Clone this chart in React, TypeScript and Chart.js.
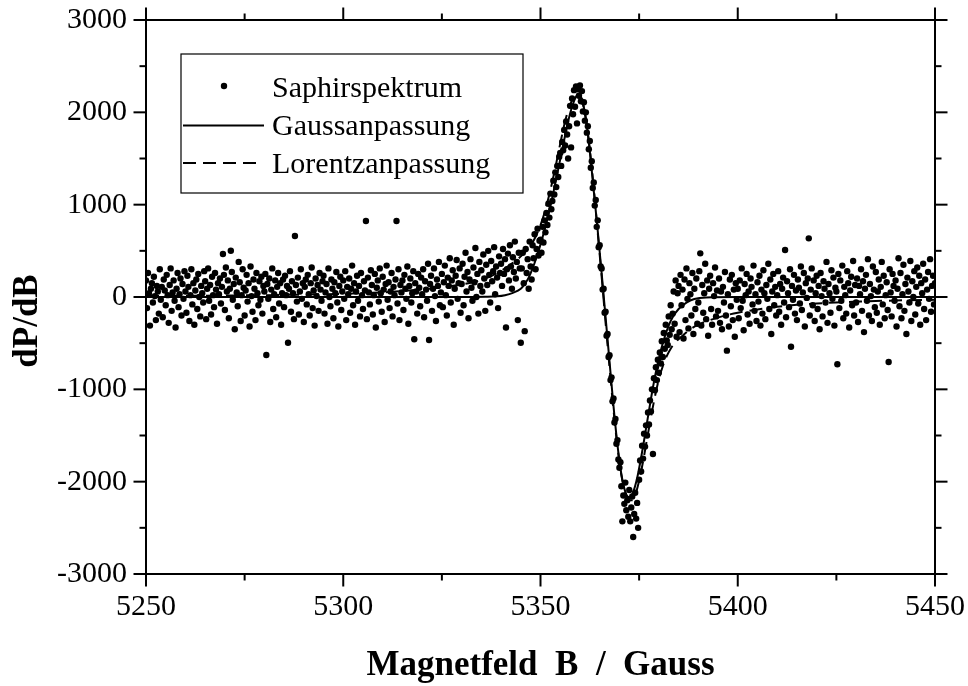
import React, { useEffect, useRef } from 'react';
import { Chart, registerables } from 'chart.js';

Chart.register(...registerables);

// ---------- data ----------
const B_START = 5250;
const B_STEP = 0.25;

// measured spectrum dP/dB, one value per 0.25 G from 5250 G to 5450 G (20 values per row = 5 G)
const SPECTRUM = [
  180, -120, 260, 40, -310, 90, 150, -60, 220, 10, -250, 120, 60, -180, 300, -30, 110, -220, 190, 70,
  -90, 240, 20, -280, 130, 310, -150, 50, 180, -40, -330, 90, 260, -110, 30, 200, -200, 140, -20, 280,
  60, -170, 230, 110, -260, 20, 300, -80, 150, -300, 70, 190, -130, 250, 0, -210, 120, 40, -60, 280,
  170, -240, 90, 310, -40, 130, -190, 220, 20, -110, 260, 80, -290, 150, 30, 200, -70, 110, 466, 240,
  -140, 320, 60, 180, -230, 90, 501, 270, -30, 140, -350, 210, 50, -100, 380, 160, -260, 20, 300, 100,
  -200, 70, 240, -50, 150, -320, 330, 10, -160, 190, 90, -250, 260, 40, -90, 170, -30, 220, -180, 120,
  60, 250, -628, 140, -20, 200, -270, 80, 310, -130, 30, 180, -220, 110, 260, -70, 150, -300, 40, 190,
  -110, 230, 20, 120, -495, 90, 280, -160, 170, 40, -240, 661, 130, -50, 210, -190, 60, 300, -20, 150,
  -270, 110, 190, -80, 240, 30, -200, 150, 320, -120, 70, -310, 200, 10, 130, -150, 260, 80, -40, 170,
  230, -180, 50, 140, -290, 310, 0, -100, 190, 90, -230, 160, 40, 270, -60, -320, 120, 220, -140, 60,
  180, -20, 280, -250, 110, 30, 200, -170, 90, 340, -90, 150, -300, 60, 230, -40, 120, -210, 260, 20,
  -130, 170, 70, 823, -240, 210, 50, -80, 290, 130, -190, 20, 250, -330, 100, 180, -50, 310, 40, -160,
  220, 80, -270, 140, 340, -30, 160, -120, 60, 260, -210, 110, 20, 190, 823, -70, 300, -250, 130, 50,
  180, -140, 240, 90, -20, 330, -290, 120, 200, -60, 40, 280, -458, 150, 60, -180, 250, 100, -100, 210,
  30, 300, -220, 170, 80, -40, 360, -466, 140, 230, -150, 90, 310, 10, -260, 190, 120, 380, -90, 50,
  250, -110, 160, 340, 20, -200, 210, 120, 420, -60, 180, 290, -300, 90, 230, 400, -20, 150, 310, -170,
  140, 360, -90, 220, 480, 60, 270, -230, 190, 410, 100, -40, 320, 160, 530, 0, 250, -180, 380, 120,
  290, 60, 460, 200, -150, 350, 130, 500, 240, -60, 390, 170, 280, 540, 30, 330, 210, -120, 440, 260,
  360, 120, 520, 250, 410, -330, 300, 470, 180, 560, 330, 90, 430, 270, 600, 200, 380, -250, 480, 310,
  -495, 310, 480, 150, -370, 520, 260, 410, 90, 600, 330, 190, 560, 420, 680, 300, 520, 740, 450, 610,
  620, 480, 760, 590, 830, 700, 910, 780, 1010, 860, 1120, 950, 1040, 1260, 1110, 1350, 1190, 1420, 1300, 1520,
  1560, 1420, 1680, 1590, 1810, 1640, 1900, 1760, 1500, 1850, 2070, 1620, 2150, 1980, 2240, 2060, 2280, 1880, 2250, 2180,
  2290, 2120, 2230, 2010, 2110, 1910, 2000, 1780, 1850, 1600, 1690, 1400, 1470, 1180, 1240, 990, 1050, 760, 830, 540,
  560, 330, 310, 80, 90, -170, -160, -420, -400, -650, -630, -900, -870, -1130, -1100, -1360, -1320, -1590, -1550, -1760,
  -1850, -1790, -2050, -2430, -2150, -2240, -2010, -2310, -2200, -2380, -2090, -2430, -2280, -2160, -2600, -2350, -2120, -2400, -2230, -2500,
  -1980, -1770, -1890, -1610, -1750, -1480, -1620, -1390, -1500, -1250, -1380, -1120, -1240, -1000, -1700, -880, -1010, -760, -900, -680,
  -820, -600, -720, -480, -650, -390, -560, -300, -470, -520, -210, -410, -90, -350, -180, 60, -290, 180, -430, 40,
  120, -380, 240, -90, 80, -450, 190, -250, 310, -20, -340, 150, 30, -200, 260, -400, 90, -130, 200, -290,
  -60, 280, 473, -310, 130, -170, 40, 360, -240, 180, -420, 90, 230, -130, -300, 150, 10, 320, -210, 70,
  -150, 200, -280, 60, -350, 110, -60, 270, -200, -581, 30, -320, 190, -100, 240, -250, 80, -430, 150, -30,
  90, -230, 180, -120, 310, -40, -360, 140, 20, 250, -190, 60, -290, 200, 110, -80, 340, -150, 30, -260,
  160, -50, 230, -310, 80, -180, 290, 40, -240, 130, -20, 360, -130, 190, -400, 60, 250, -90, 110, -200,
  20, 280, -160, 140, -300, 90, 210, -60, 509, -220, 170, 40, -110, 300, -538, 120, -30, 240, -180, 70,
  -250, 190, 100, -70, 330, -140, 50, 260, -320, 150, -10, 200, 635, -200, 80, 310, -90, 180, -260, 40,
  230, -130, 120, -350, 260, 10, -210, 170, 90, -60, 380, -280, 140, 40, -170, 290, -20, 210, -310, 100,
  60, -729, 250, -120, 180, -40, 340, -230, 110, 20, -180, 280, 150, -330, 70, 220, -90, 390, -200, 130,
  -60, 200, -270, 120, 30, 300, -150, 170, -380, 90, 240, -40, 410, -200, 140, 10, -260, 330, 80, -110,
  270, -170, 60, 190, -300, 110, 380, -80, 230, -230, 20, 160, -140, -704, 300, 50, -210, 250, 120, -40,
  180, -320, 90, 420, -100, 260, -230, 30, 350, -150, 140, -400, 210, 60, -60, 390, -260, 170, 0, 280,
  -190, 110, 320, -70, 230, -300, 150, 40, 360, -130, 190, -250, 80, 270, -20, 410, -160, 120, 230, -80,
  150,
];

const GAUSS_B = [5250, 5300, 5330, 5336, 5339, 5341, 5343, 5345, 5346, 5347, 5348, 5349, 5350, 5351, 5352, 5353, 5354, 5355, 5356, 5357, 5358, 5359, 5359.6, 5360.5, 5361.5, 5362.5, 5363.5, 5364.5, 5365.5, 5366.5, 5367.5, 5368.5, 5369.5, 5370.5, 5371.5, 5372.5, 5373.5, 5374.5, 5375.5, 5376.5, 5377.5, 5378.5, 5379.5, 5380.5, 5381.5, 5382.5, 5383.5, 5385, 5387, 5389, 5392, 5400, 5450];
const GAUSS_V = [0, 0, 0, 3, 8, 20, 45, 90, 140, 210, 310, 430, 570, 720, 890, 1080, 1280, 1490, 1700, 1900, 2060, 2170, 2200, 2140, 1930, 1580, 1150, 720, 260, -220, -700, -1180, -1600, -1920, -2110, -2170, -2110, -1960, -1740, -1490, -1230, -980, -760, -580, -430, -310, -220, -130, -60, -22, -5, 0, 0];

const LORENTZ_B = [5250, 5280, 5300, 5310, 5318, 5324, 5329, 5333, 5336, 5339, 5341, 5343, 5345, 5347, 5348.5, 5350, 5351, 5352, 5353, 5354, 5355, 5356, 5357, 5358, 5359, 5359.7, 5360.5, 5361.5, 5362.5, 5363.5, 5364.5, 5365.5, 5366.5, 5367.5, 5368.5, 5369.5, 5370.5, 5371.5, 5372.5, 5373.3, 5374.2, 5375, 5376, 5377, 5378, 5379, 5380, 5381, 5382, 5383, 5384, 5386, 5388, 5390, 5393, 5396, 5400, 5405, 5410, 5415, 5420, 5430, 5440, 5450];
const LORENTZ_V = [10, 20, 35, 50, 75, 100, 130, 160, 200, 260, 310, 370, 440, 530, 630, 780, 910, 1070, 1250, 1450, 1660, 1860, 2020, 2130, 2190, 2200, 2130, 1930, 1600, 1180, 700, 220, -280, -760, -1220, -1620, -1930, -2120, -2200, -2200, -2120, -1990, -1780, -1540, -1300, -1080, -890, -750, -640, -560, -500, -420, -350, -300, -250, -210, -170, -135, -105, -85, -70, -50, -38, -30];

const SERIES_NAMES = ['Saphirspektrum', 'Gaussanpassung', 'Lorentzanpassung'];
const X_TICKS = [5250, 5300, 5350, 5400, 5450];
const X_MINOR = [5275, 5325, 5375, 5425];
const Y_TICKS = [-3000, -2000, -1000, 0, 1000, 2000, 3000];
const Y_MINOR = [-2500, -1500, -500, 500, 1500, 2500];
const X_TITLE = 'Magnetfeld  B  /  Gauss';
const Y_TITLE = 'dP/dB';

const FONT = '"Liberation Serif", "Times New Roman", Times, serif';

export default function App() {
  const ref = useRef<HTMLCanvasElement>(null);

  useEffect(() => {
    const canvas = ref.current;
    if (!canvas) return;

    const framePlugin = {
      id: 'frame',
      afterDraw(chart: any) {
        const { ctx, chartArea: a, scales } = chart;
        const xs = scales.x;
        const ys = scales.y;
        ctx.save();
        ctx.strokeStyle = '#000';
        ctx.lineWidth = 2;
        ctx.lineCap = 'butt';
        ctx.strokeRect(a.left, a.top, a.right - a.left, a.bottom - a.top);
        const seg = (x1: number, y1: number, x2: number, y2: number) => {
          ctx.beginPath();
          ctx.moveTo(x1, y1);
          ctx.lineTo(x2, y2);
          ctx.stroke();
        };
        const MAJ = 12.5;
        const MIN = 6.5;
        X_TICKS.forEach((v) => {
          const p = xs.getPixelForValue(v);
          seg(p, a.bottom, p, a.bottom + MAJ);
          seg(p, a.top, p, a.top - MAJ);
        });
        X_MINOR.forEach((v) => {
          const p = xs.getPixelForValue(v);
          seg(p, a.bottom, p, a.bottom + MIN);
          seg(p, a.top, p, a.top - MIN);
        });
        Y_TICKS.forEach((v) => {
          const p = ys.getPixelForValue(v);
          seg(a.left, p, a.left - MAJ, p);
          seg(a.right, p, a.right + MAJ, p);
        });
        Y_MINOR.forEach((v) => {
          const p = ys.getPixelForValue(v);
          seg(a.left, p, a.left - MIN, p);
          seg(a.right, p, a.right + MIN, p);
        });

        // axis titles
        ctx.fillStyle = '#000';
        ctx.font = `bold 35px ${FONT}`;
        ctx.textAlign = 'center';
        ctx.textBaseline = 'alphabetic';
        ctx.fillText(X_TITLE, (a.left + a.right) / 2, a.bottom + 101);
        ctx.save();
        ctx.translate(37, (a.top + a.bottom) / 2 + 24);
        ctx.rotate(-Math.PI / 2);
        ctx.fillText(Y_TITLE, 0, 0);
        ctx.restore();

        // legend
        const ds = chart.data.datasets;
        const bx = a.left + 35;
        const by = a.top + 34;
        ctx.fillStyle = '#fff';
        ctx.fillRect(bx, by, 342, 139);
        ctx.lineWidth = 1.2;
        ctx.strokeStyle = '#000';
        ctx.strokeRect(bx, by, 342, 139);
        ctx.font = `30px ${FONT}`;
        ctx.textAlign = 'left';
        ctx.fillStyle = '#000';
        const tx = a.left + 126;
        // row 1: point
        ctx.beginPath();
        ctx.arc(a.left + 78, a.top + 66, ds[0].pointRadius, 0, Math.PI * 2);
        ctx.fillStyle = ds[0].backgroundColor;
        ctx.fill();
        ctx.fillStyle = '#000';
        ctx.fillText(ds[0].label, tx, a.top + 77);
        // row 2: solid line
        ctx.lineWidth = ds[1].borderWidth;
        ctx.strokeStyle = ds[1].borderColor;
        ctx.setLineDash([]);
        seg(a.left + 37, a.top + 105.5, a.left + 118, a.top + 105.5);
        ctx.fillText(ds[1].label, tx, a.top + 115);
        // row 3: dashed line
        ctx.lineWidth = ds[2].borderWidth;
        ctx.strokeStyle = ds[2].borderColor;
        ctx.setLineDash(ds[2].borderDash);
        seg(a.left + 37, a.top + 143, a.left + 113, a.top + 143);
        ctx.setLineDash([]);
        ctx.fillText(ds[2].label, tx, a.top + 153);
        ctx.restore();
      },
    };

    const tickFont = { family: FONT, size: 30 };

    const chart = new Chart(canvas, {
      type: 'scatter',
      data: {
        datasets: [
          {
            label: SERIES_NAMES[0],
            data: SPECTRUM.map((v, i) => ({ x: B_START + i * B_STEP, y: v })),
            pointRadius: 3.2,
            pointHoverRadius: 3.2,
            backgroundColor: '#000',
            borderColor: '#000',
            borderWidth: 0,
            showLine: false,
          },
          {
            label: SERIES_NAMES[1],
            data: GAUSS_B.map((b, i) => ({ x: b, y: GAUSS_V[i] })),
            showLine: true,
            pointRadius: 0,
            borderColor: '#000',
            backgroundColor: '#000',
            borderWidth: 2,
            cubicInterpolationMode: 'monotone',
          },
          {
            label: SERIES_NAMES[2],
            data: LORENTZ_B.map((b, i) => ({ x: b, y: LORENTZ_V[i] })),
            showLine: true,
            pointRadius: 0,
            borderColor: '#000',
            backgroundColor: '#000',
            borderWidth: 2,
            borderDash: [13, 7],
            cubicInterpolationMode: 'monotone',
          },
        ],
      } as any,
      options: {
        responsive: false,
        animation: false,
        devicePixelRatio: 1,
        layout: { padding: { top: 20, right: 33, left: 0, bottom: 0 } },
        plugins: {
          legend: { display: false },
          tooltip: { enabled: false },
          title: { display: false },
        },
        events: [],
        scales: {
          x: {
            type: 'linear',
            min: 5250,
            max: 5450,
            afterBuildTicks: (s: any) => {
              s.ticks = X_TICKS.map((v) => ({ value: v }));
            },
            afterFit: (s: any) => {
              s.height = 112;
              s.paddingLeft = 0;
              s.paddingRight = 0;
              s.paddingTop = 0;
              s.paddingBottom = 0;
            },
            grid: { display: false, drawTicks: false },
            border: { display: false },
            ticks: {
              font: tickFont,
              color: '#000',
              padding: 15,
              maxRotation: 0,
              autoSkip: false,
              callback: (v: any) => String(v),
            },
          },
          y: {
            type: 'linear',
            min: -3000,
            max: 3000,
            afterBuildTicks: (s: any) => {
              s.ticks = Y_TICKS.map((v) => ({ value: v }));
            },
            afterFit: (s: any) => {
              s.width = 146;
              s.paddingLeft = 0;
              s.paddingRight = 0;
              s.paddingTop = 0;
              s.paddingBottom = 0;
            },
            grid: { display: false, drawTicks: false },
            border: { display: false },
            ticks: {
              font: tickFont,
              color: '#000',
              padding: 19,
              autoSkip: false,
              callback: (v: any) => String(v),
            },
          },
        },
      } as any,
      plugins: [framePlugin],
    });

    return () => chart.destroy();
  }, []);

  return (
    <div style={{ position: 'absolute', left: 0, top: 0, width: 968, height: 686, background: '#fff' }}>
      <canvas ref={ref} width={968} height={686} style={{ display: 'block' }} />
    </div>
  );
}
